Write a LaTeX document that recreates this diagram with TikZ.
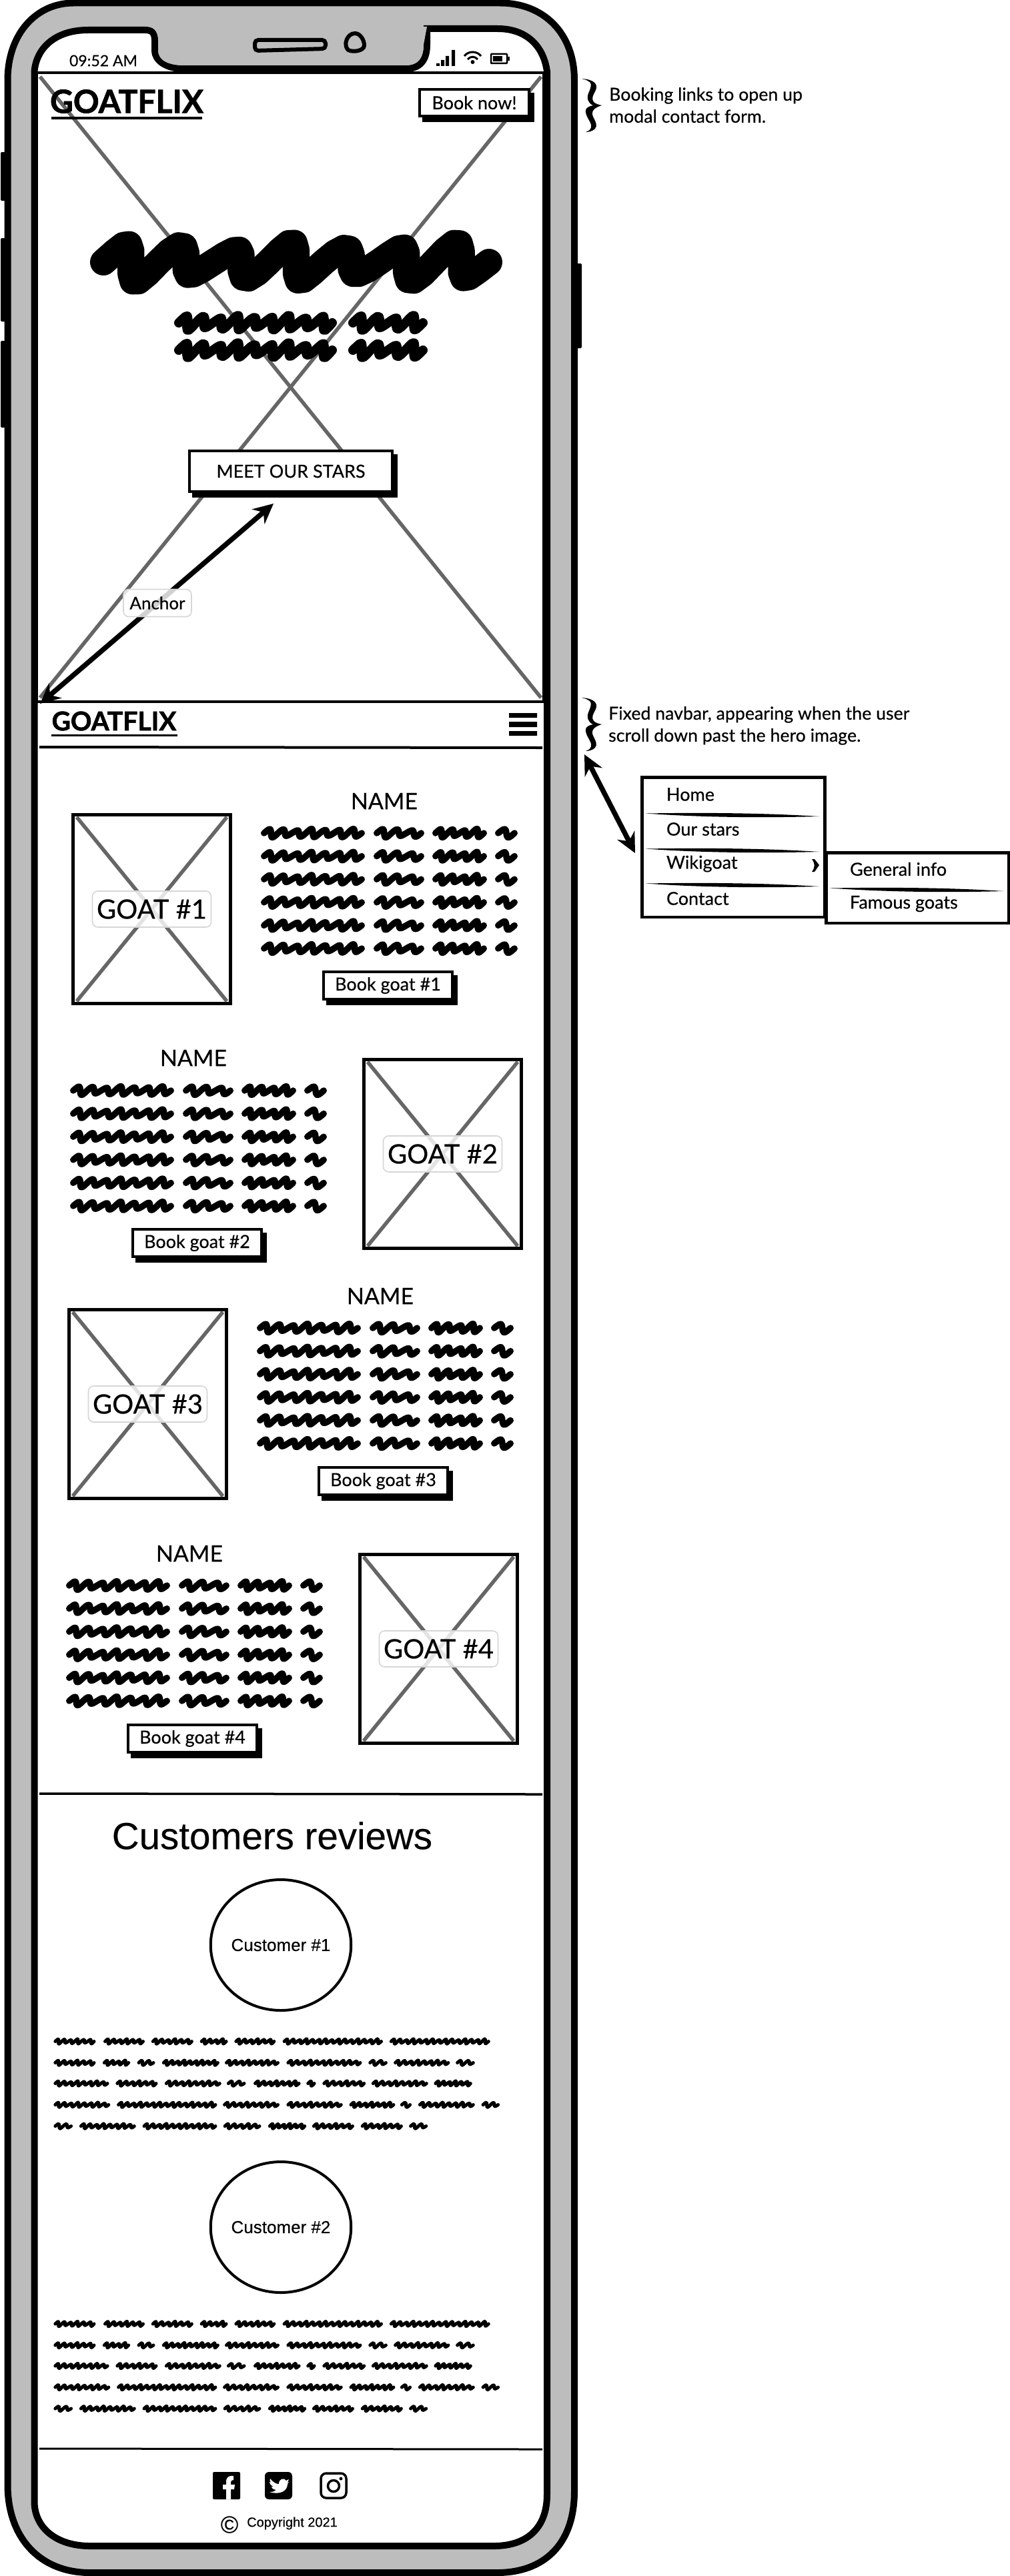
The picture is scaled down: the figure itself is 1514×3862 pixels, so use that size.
\documentclass[tikz,border=0pt]{standalone}
\usepackage{fontspec}
\setmainfont{Lato}[FakeBold=0.35,BoldFeatures={FakeBold=1.6}]
\newfontfamily\arialf{Liberation Sans}[FakeBold=0.2]
\usetikzlibrary{arrows.meta,calc,shapes.geometric}
\definecolor{bodygray}{HTML}{BDBDBD}
\definecolor{xgray}{HTML}{666666}
\definecolor{lblgray}{HTML}{D6D6D6}
\tikzset{
 xline/.style={draw=xgray,line width=5.5pt},
 scrib/.style={draw=black,line cap=round,line join=round,fill=none},
 txt/.style={inner sep=0pt,outer sep=0pt,font=\fontsize{27}{30}\selectfont},
 btnbox/.style={draw=black,fill=white,line width=4pt,inner sep=0pt,anchor=north west,font=\fontsize{27}{30}\selectfont},
 shadowbox/.style={fill=black,inner sep=0pt,outer sep=0pt,anchor=north west},
 imgbox/.style={draw=black,fill=white,line width=5pt,inner sep=0pt,anchor=north west,minimum width=236pt,minimum height=283pt},
 lblbox/.style={draw=lblgray,line width=1.6pt,rounded corners=8pt,fill=white,fill opacity=.82,text opacity=1,inner sep=0pt},
 golbl/.style={lblbox,minimum width=178pt,minimum height=54pt,font=\fontsize{40}{42}\selectfont},
 namelbl/.style={txt,font=\fontsize{34}{38}\selectfont},
 logo/.style={inner sep=0pt,font=\bfseries\fontsize{48}{50}\selectfont},
 note/.style={inner sep=0pt,anchor=north west,align=left,font=\fontsize{26.7}{33}\selectfont},
 menubox/.style={draw=black,fill=white,line width=4.5pt,inner sep=0pt,anchor=north west},
 face/.style={draw=black,fill=white,line width=4pt,ellipse,inner sep=0pt},
 dbl/.style={line width=7.5pt,{Stealth[length=30pt,width=29pt,inset=10pt]}-{Stealth[length=30pt,width=29pt,inset=10pt]}},
}
% wavy scribble: x0,x1,y,amp,linewidth,period
\newcommand\scr[6]{%
 \pgfmathsetmacro\scw{(#2)-(#1)-(#5)}%
 \pgfmathtruncatemacro\scn{max(1,round(\scw/(#6)))}%
 \pgfmathsetmacro\sct{360*\scn}%
 \pgfmathtruncatemacro\scs{10*\scn+1}%
 \draw[scrib,line width=#5pt] plot[domain=0:\sct,samples=\scs,variable=\t]
   ({(#1)+(#5)/2+\scw*(\t/\sct)+.6*(#4)*sin(\t)},{(#3)-(#4)*sin(\t)*(1+.25*sin(.37*\t))});%
}
% six rows of text scribble
\newcommand\rowsof[2]{%
 \foreach \rr in {0,...,5}{%
  \pgfmathsetmacro\ry{#2+34.6*\rr}%
  \scr{#1}{#1+156}{\ry}{5.3}{9.5}{20}%
  \scr{#1+169}{#1+245}{\ry}{5.3}{9.5}{20}%
  \scr{#1+257}{#1+339}{\ry}{5.3}{9.5}{20}%
  \scr{#1+351}{#1+385}{\ry}{5.3}{9.5}{20}%
 }}
% review paragraph scribble
\newcommand\wl[2]{\foreach \a/\b in {#2}{\scr{\a/1.742}{\b/1.742}{#1}{3}{5}{9.5}}}
\newcommand\para[1]{%
 \wl{#1}{140/250,270/378,395/505,522/595,612/720,738/1000,1017/1280}%
 \wl{#1+32}{140/250,268/340,358/405,423/573,587/730,748/945,962/1012,1028/1175,1190/1240}%
 \wl{#1+63}{140/285,302/412,430/578,592/642,662/785,800/825,842/955,970/1118,1133/1233}%
 \wl{#1+95}{140/288,305/567,582/730,748/895,912/1032,1045/1075,1092/1240,1257/1305}%
 \wl{#1+127}{140/190,207/355,372/567,583/682,700/800,815/925,942/1052,1068/1117}%
}
% button: name, x, y, w, h, text
\newcommand\btn[6]{%
 \node[shadowbox,minimum width=#4pt+4pt,minimum height=#5pt+4pt] (#1s) at (#2+6,#3+7) {};
 \node[btnbox,minimum width=#4pt,minimum height=#5pt] (#1) at (#2,#3) {#6};
}
% goat picture: name, x, y, text
\newcommand\goatimg[4]{%
 \node[imgbox] (#1) at (#2,#3) {};
 \draw[xline] ([shift={(8,6)}]#1.north west) -- ([shift={(-8,-6)}]#1.south east);
 \draw[xline] ([shift={(-8,6)}]#1.north east) -- ([shift={(8,-6)}]#1.south west);
 \node[golbl] (#1l) at (#1.center) {#4};
}
% squiggle of a side note
\newcommand\squig[3]{%
 \fill[black,shift={(#2,#3)}] (0,0) .. controls (18,1) and (25,8) .. (21,17)
  .. controls (17,25) and (14,30) .. (18,35) .. controls (21,38) and (26,39) .. (30,40)
  .. controls (20,43) and (13,48) .. (17,57) .. controls (21,65) and (24,70) .. (20,75)
  .. controls (16,79) and (10,80) .. (6,80) .. controls (12,78) and (15,75) .. (14,69)
  .. controls (12,62) and (5,55) .. (6,47) .. controls (7,43) and (12,41) .. (17,40)
  .. controls (10,37) and (7,30) .. (10,22) .. controls (13,15) and (15,10) .. (13,6)
  .. controls (10,3) and (5,1) .. (0,0) -- cycle;
 \coordinate (#1) at (#2+15,#3+40);
}
\begin{document}
\begin{tikzpicture}[x=1pt,y=-1pt]
\useasboundingbox (0,0) rectangle (1514,3862);
% side buttons
\fill[black,rounded corners=2pt] (1,228) rectangle (8,301);
\fill[black,rounded corners=2pt] (1,357) rectangle (8,482);
\fill[black,rounded corners=2pt] (1,511) rectangle (8,641);
\fill[black,rounded corners=2pt] (864,395) rectangle (872,522);
% phone body
\draw[line width=10pt,fill=bodygray] (11.5,120) .. controls (11.5,50) and (55,4.5) .. (110,4.5) -- (750,4.5)
 .. controls (815,4.5) and (861,50) .. (861,120) -- (861,3735) .. controls (861,3815) and (815,3857) .. (745,3857)
 -- (135,3857) .. controls (60,3857) and (11.5,3805) .. (11.5,3725) -- cycle;
% screen
\draw[line width=10pt,fill=white] (51.5,107) .. controls (55,70) and (85,45) .. (132,45) -- (218,45)
 .. controls (228,45) and (232,50) .. (232,60) -- (232,76) .. controls (232,90) and (248,103) .. (275,103)
 -- (608,103) .. controls (630,103) and (640,90) .. (640,67) -- (640,43) -- (746,43)
 .. controls (790,43) and (815,70) .. (820,107) -- (820,3740) .. controls (820,3790) and (790,3817) .. (740,3817)
 -- (135,3817) .. controls (85,3817) and (51.5,3790) .. (51.5,3750) -- cycle;
\fill[bodygray] (222,40) -- (640,40) -- (635,67) .. controls (635,88) and (625,98) .. (608,98) -- (275,98) .. controls (252,98) and (237,90) .. (237,76) -- (237,60) .. controls (237,50) and (232,40) .. (222,40) -- cycle;
% speaker, camera
\draw[line width=6pt,fill=bodygray,rounded corners=5pt] (382,60) -- (488,60) -- (488,73) -- (382,76) -- cycle;
\draw[line width=6pt,fill=bodygray] (532,50) .. controls (540,50) and (546,60) .. (546,68) .. controls (546,76) and (530,79) .. (522,75) .. controls (514,68) and (520,50) .. (532,50) -- cycle;
% status bar
\node[txt,font=\fontsize{23}{26}\selectfont] (clock) at (155,91) {09:52 AM};
\fill (654,95) rectangle (659,99) (661,90) rectangle (666,99) (668,84) rectangle (673,99) (677,75) rectangle (682,99);
\draw[line width=3pt] (696,84) .. controls (702,76) and (715,76) .. (721,84);
\draw[line width=3pt] (701,89) .. controls (705,84) and (712,84) .. (716,89);
\fill (708.5,93) circle (3pt);
\draw[line width=2.5pt,rounded corners=1pt] (736,81) rectangle (760,95);
\fill (739,84) rectangle (753,92);
\fill (761,85) rectangle (764,91);
% hero
\node[draw=black,fill=white,line width=4pt,inner sep=0pt,anchor=north west,minimum width=760pt,minimum height=943pt] (hero) at (53,107) {};
\draw[xline] ([shift={(7,8)}]hero.north west) -- ([shift={(-6,-8)}]hero.south east);
\draw[xline] ([shift={(-6,8)}]hero.north east) -- ([shift={(7,-8)}]hero.south west);
\node[logo] (logo1) at (190,152) {GOATFLIX};
\draw[line width=3.5pt] (77,177) -- (303,177);
\btn{booknow}{627}{132}{164}{40}{Book now!}
\scr{135}{753}{393}{24}{40}{78}
\scr{261}{505}{484}{9}{14}{27}
\scr{522}{641}{484}{9}{14}{27}
\scr{261}{505}{525}{9}{14}{27}
\scr{522}{641}{525}{9}{14}{27}
\btn{meet}{282}{674}{304}{61}{MEET OUR STARS}
\coordinate (anchorA) at (60,1055);
\coordinate (anchorB) at (410,755);
\draw[dbl] (anchorA) -- (anchorB);
\node[lblbox,minimum width=102pt,minimum height=41pt,font=\fontsize{26}{28}\selectfont] (anchorL) at (236,904) {Anchor};
% navbar
\draw[line width=4pt] (55,1052) -- (815,1052);
\draw[line width=4pt] (59,1120) -- (813,1121);
\node[logo,font=\bfseries\fontsize{39}{42}\selectfont] (logo2) at (171,1081) {GOATFLIX};
\draw[line width=3pt] (77,1102) -- (266,1102);
\fill (763,1069) rectangle (805,1076) (763,1082) rectangle (805,1090) (763,1096) rectangle (805,1103);
% goats
\goatimg{g1}{107}{1219}{GOAT \#1}
\node[namelbl] (n1) at (576,1201) {NAME};
\rowsof{391}{1249}
\btn{b1}{483}{1455}{193}{41}{Book goat \#1}
\goatimg{g2}{543}{1586}{GOAT \#2}
\node[namelbl] (n2) at (290,1586) {NAME};
\rowsof{105}{1635}
\btn{b2}{197}{1841}{193}{41}{Book goat \#2}
\goatimg{g3}{101}{1961}{GOAT \#3}
\node[namelbl] (n3) at (570,1943) {NAME};
\rowsof{385}{1991}
\btn{b3}{476}{2198}{193}{41}{Book goat \#3}
\goatimg{g4}{537}{2328}{GOAT \#4}
\node[namelbl] (n4) at (284,2329) {NAME};
\rowsof{99}{2377}
\btn{b4}{190}{2584}{193}{41}{Book goat \#4}
% reviews
\draw[line width=3.5pt] (59,2689) -- (813,2690);
\node[inner sep=0pt,font=\arialf\fontsize{56.5}{60}\selectfont] (rev) at (408,2752) {Customers reviews};
\node[face,minimum width=205pt,minimum height=196pt,font=\arialf\fontsize{26}{28}\selectfont] (c1) at (421,2916) {Customer \#1};
\para{3060.5}
\node[face,minimum width=205pt,minimum height=196pt,font=\arialf\fontsize{26}{28}\selectfont] (c2) at (421,3339) {Customer \#2};
\para{3484}
% footer
\draw[line width=3pt] (59,3671) -- (813,3672);
\fill[rounded corners=2pt] (319,3706) rectangle (360,3747);
\fill[white] (350,3712) .. controls (343,3711) and (339,3714) .. (339,3721) -- (339,3725) -- (334,3725) -- (334,3732) -- (339,3732) -- (339,3747) -- (346,3747) -- (346,3732) -- (351,3732) -- (352,3725) -- (346,3725) -- (346,3721) .. controls (346,3719) and (348,3718) .. (350,3718) -- cycle;
\fill[rounded corners=6pt] (397,3706) rectangle (438,3747);
\fill[white] (405,3716) .. controls (410,3722) and (414,3724) .. (418,3724) .. controls (418,3716) and (426,3714) .. (429,3719) -- (433,3717) -- (431,3722) -- (433,3721) -- (431,3724) .. controls (431,3734) and (420,3741) .. (404,3736) .. controls (409,3736) and (412,3735) .. (414,3733) .. controls (408,3732) and (407,3729) .. (407,3728) -- (410,3728) .. controls (406,3726) and (404,3723) .. (404,3721) -- (407,3722) .. controls (404,3720) and (404,3718) .. (405,3716) -- cycle;
\draw[line width=3.5pt,rounded corners=8pt] (481,3708) rectangle (519,3745);
\draw[line width=3.5pt] (500,3727) circle (8.5pt);
\fill (511,3716) circle (2.5pt);
\node[inner sep=0pt,font=\arialf\fontsize{36}{38}\selectfont] (copysym) at (344,3785) {©};
\node[inner sep=0pt,anchor=west,font=\arialf\fontsize{20}{22}\selectfont] (copy) at (370,3783) {Copyright 2021};
% side notes
\squig{sq1}{872}{118}
\node[note] (note1) at (913,131) {Booking links to open up\\modal contact form.};
\squig{sq2}{872}{1046}
\node[note] (note2) at (912,1059) {Fixed navbar, appearing when the user\\scroll down past the hero image.};
% menu
\node[menubox,minimum width=274pt,minimum height=209.5pt] (menu) at (960,1163) {};
\foreach \yy in {1222,1275,1327}{\fill (968,\yy-2.5) .. controls (1060,\yy-4) and (1150,\yy-3) .. (1228,\yy+2) .. controls (1150,\yy+4) and (1060,\yy+4) .. (968,\yy-2.5) -- cycle;}
\node[txt,anchor=west] (mh) at (999,1191) {Home};
\node[txt,anchor=west] (mo) at (999,1243) {Our stars};
\node[txt,anchor=west] (mw) at (999,1295) {Wikigoat};
\node[txt,anchor=west] (mc) at (999,1347) {Contact};
\fill (1217,1288) -- (1221,1288) -- (1228,1297) -- (1221,1307) -- (1217,1307) .. controls (1222,1300) and (1222,1295) .. (1217,1288) -- cycle;
\node[menubox,minimum width=273.5pt,minimum height=105.5pt] (sub) at (1236,1276) {};
\fill (1244,1331.5) .. controls (1340,1330) and (1430,1331) .. (1504,1336) .. controls (1430,1338) and (1340,1338) .. (1244,1331.5) -- cycle;
\node[txt,anchor=west] (sg) at (1274,1303) {General info};
\node[txt,anchor=west] (sf) at (1274,1355) {Famous goats};
\coordinate (navA) at (876,1131);
\coordinate (navB) at (952,1279);
\draw[dbl] (navA) -- (navB);
\end{tikzpicture}
\end{document}
